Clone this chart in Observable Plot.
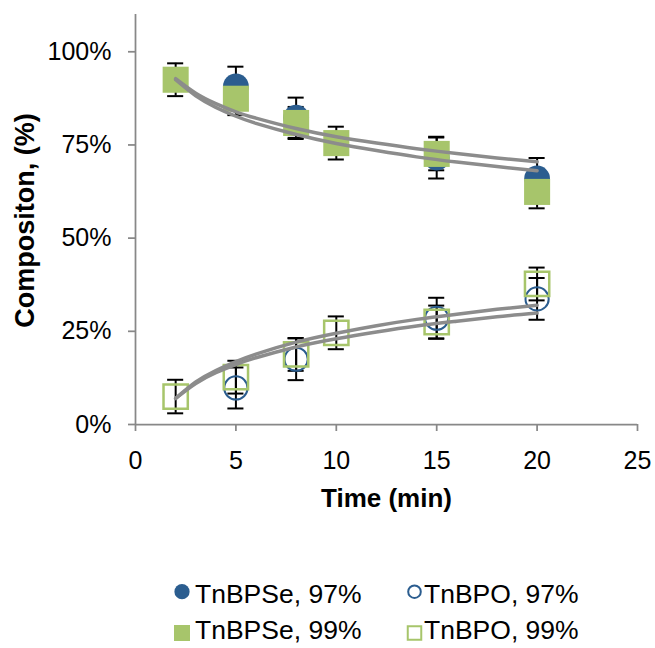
<!DOCTYPE html>
<html><head><meta charset="utf-8">
<script src="https://cdn.jsdelivr.net/npm/d3@7"></script>
<script src="https://cdn.jsdelivr.net/npm/@observablehq/plot@0.6"></script>
<style>
body{margin:0;background:#fff;font-family:"Liberation Sans",Arial,sans-serif;}
#chart{width:655px;height:648px;overflow:hidden;}
#chart svg{display:block;}
</style></head><body><div id="chart"></div>
<script>
// ---- data ----
const xTicks = [0, 5, 10, 15, 20, 25];
const yTicks = [0, 25, 50, 75, 100];

const time97 = [5, 8, 15, 20];
const tnbpse97 = [90.7, 82.3, 71.6, 66.0];
const tnbpse97Err = [5.3, 5.4, 5.6, 5.5];
const tnbpo97 = [9.8, 17.5, 28.5, 33.7];
const tnbpo97Err = [5.5, 5.6, 5.5, 5.6];

const time99 = [2, 5, 8, 10, 15, 20];
const tnbpse99 = [92.5, 87.4, 80.9, 75.5, 72.6, 62.4];
const tnbpse99Err = [4.4, 4.4, 4.3, 4.4, 4.4, 4.4];
const tnbpo99 = [7.5, 12.7, 18.8, 24.6, 27.5, 37.7];
const tnbpo99Err = [4.5, 4.4, 4.4, 4.4, 4.4, 4.4];

// logarithmic trendlines
const trendTime = [2, 3, 4, 5, 6, 8, 10, 12, 14, 16, 18, 20];
const trendSeA = [92.8, 88.9, 86.1, 83.9, 82.2, 79.4, 77.2, 75.5, 74.0, 72.7, 71.5, 70.5];
const trendSeB = [92.5, 88.2, 85.1, 82.7, 80.8, 77.8, 75.4, 73.5, 71.8, 70.4, 69.2, 68.1];
const trendOA = [7.0, 11.4, 14.5, 16.9, 18.9, 22.1, 24.5, 26.5, 28.2, 29.6, 30.9, 32.0];
const trendOB = [7.0, 11.0, 13.9, 16.1, 17.9, 20.8, 23.0, 24.8, 26.4, 27.7, 28.9, 29.9];

const seriesNames = ["TnBPSe, 97%", "TnBPO, 97%", "TnBPSe, 99%", "TnBPO, 99%"];

// ---- styles ----
const blue = "#2b5d8f";
const green = "#a7c56b";
const gray = "#8c8c8c";
const axisGray = "#888888";
const font = '"Liberation Sans", Arial, sans-serif';

const rows = (ts, vs, es) => ts.map((t, i) => ({t, v: vs[i], e: es ? es[i] : 0}));
const se97 = rows(time97, tnbpse97, tnbpse97Err);
const o97 = rows(time97, tnbpo97, tnbpo97Err);
const se99 = rows(time99, tnbpse99, tnbpse99Err);
const o99 = rows(time99, tnbpo99, tnbpo99Err);
const trends = [trendSeA, trendSeB, trendOA, trendOB].map(a => rows(trendTime, a));

const cap = 0.4; // half cap width in minutes
const errMarks = (data) => [
  Plot.ruleX(data, {x: "t", y1: d => d.v - d.e, y2: d => d.v + d.e, stroke: "#000", strokeWidth: 2}),
  Plot.ruleY(data, {y: d => d.v + d.e, x1: d => d.t - cap, x2: d => d.t + cap, stroke: "#000", strokeWidth: 2}),
  Plot.ruleY(data, {y: d => d.v - d.e, x1: d => d.t - cap, x2: d => d.t + cap, stroke: "#000", strokeWidth: 2})
];

const chart = Plot.plot({
  width: 655,
  height: 520,
  marginLeft: 135,
  marginRight: 18,
  marginTop: 14,
  marginBottom: 96,
  style: {fontFamily: font, fontSize: "25px", color: "#000", background: "#fff", overflow: "visible"},
  x: {domain: [0, 25]},
  y: {domain: [0, 110]},
  marks: [
    Plot.axisY({ticks: yTicks, tickFormat: d => d + "%", tickSize: 7, tickPadding: 17, stroke: axisGray, strokeWidth: 1.75, label: null, fontSize: 25}),
    Plot.axisX({ticks: xTicks, tickSize: 7, tickPadding: 20, stroke: axisGray, strokeWidth: 1.75, label: null, fontSize: 25}),
    Plot.ruleX([0], {stroke: axisGray, strokeWidth: 1.75}),
    Plot.ruleY([0], {stroke: axisGray, strokeWidth: 1.75}),
    ...errMarks(se97), ...errMarks(o97), ...errMarks(se99), ...errMarks(o99),
    Plot.dot(se97, {x: "t", y: "v", r: 12.9, fill: blue, stroke: "none"}),
    Plot.dot(o97, {x: "t", y: "v", r: 11.6, fill: "none", stroke: blue, strokeWidth: 2}),
    Plot.dot(se99, {x: "t", y: "v", r: 14.7, symbol: "square", fill: green, stroke: "none"}),
    Plot.dot(o99, {x: "t", y: "v", r: 13.7, symbol: "square", fill: "none", stroke: green, strokeWidth: 2.5}),
    ...trends.map(tr => Plot.line(tr, {x: "t", y: "v", curve: "natural", stroke: gray, strokeWidth: 3.5})),
    Plot.text(["Time (min)"], {frameAnchor: "bottom", lineAnchor: "bottom", dy: 82, fontSize: 26, fontWeight: "bold", fill: "#000"}),
    Plot.text(["Compositon, (%)"], {frameAnchor: "left", textAnchor: "middle", lineAnchor: "middle", rotate: -90, dx: -110, dy: 1, fontSize: 27, fontWeight: "bold", fill: "#000"})
  ]
});
document.getElementById("chart").appendChild(chart);

// ---- legend (below the plot) ----
const leg = d3.select("#chart").append("svg").attr("width", 655).attr("height", 128)
  .style("font-family", font).style("font-size", "26.5px");
const legendItems = [
  {name: seriesNames[0], col: 0, row: 0, kind: "circle", filled: true, color: blue},
  {name: seriesNames[1], col: 1, row: 0, kind: "circle", filled: false, color: blue},
  {name: seriesNames[2], col: 0, row: 1, kind: "square", filled: true, color: green},
  {name: seriesNames[3], col: 1, row: 1, kind: "square", filled: false, color: green}
];
const colX = [182, 414.5];
const rowY = [71.7, 113];
const textX = [195, 424];
const baseY = [83.3, 119.3];
for (const it of legendItems) {
  const cx = colX[it.col], cy = rowY[it.row];
  if (it.kind === "circle") {
    leg.append("circle").attr("cx", cx).attr("cy", cy).attr("r", it.filled ? 7.6 : 6.3)
      .attr("fill", it.filled ? it.color : "none").attr("stroke", it.filled ? "none" : it.color).attr("stroke-width", 2);
  } else {
    const s = it.filled ? 16 : 13.5;
    leg.append("rect").attr("x", cx - s / 2).attr("y", cy - s / 2).attr("width", s).attr("height", s)
      .attr("fill", it.filled ? it.color : "none").attr("stroke", it.filled ? "none" : it.color).attr("stroke-width", 2);
  }
  leg.append("text").attr("x", textX[it.col]).attr("y", baseY[it.row]).attr("fill", "#000").text(it.name);
}
</script>
</body></html>
